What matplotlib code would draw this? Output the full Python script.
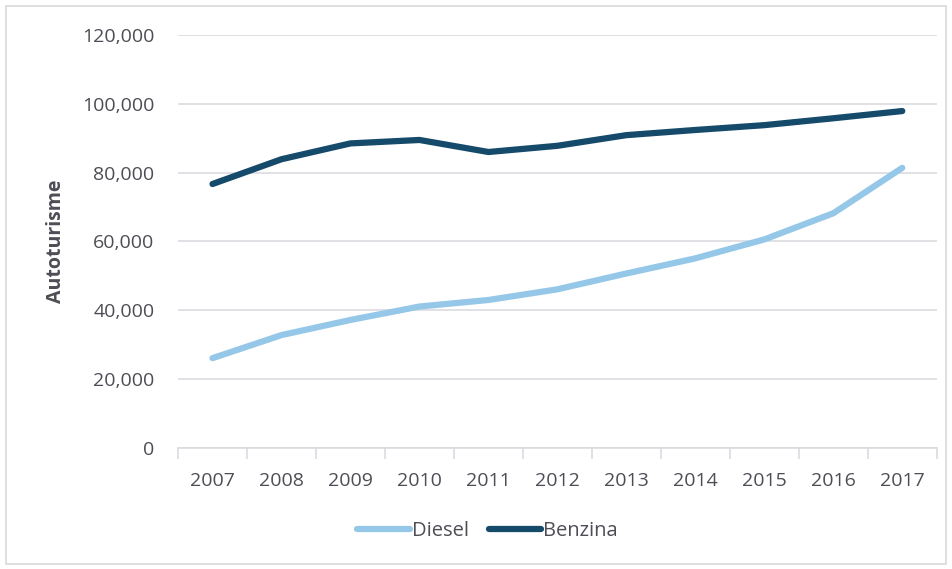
import matplotlib
matplotlib.use("Agg")
import matplotlib.pyplot as plt
from matplotlib.patches import Rectangle
from matplotlib.ticker import FuncFormatter

years = ["2007", "2008", "2009", "2010", "2011", "2012",
         "2013", "2014", "2015", "2016", "2017"]
diesel = [26100, 32800, 37200, 41100, 43000, 46100,
          50700, 55100, 60600, 68200, 81400]
benzina = [76700, 83900, 88500, 89500, 86000, 87800,
           90900, 92400, 93800, 95800, 97900]

diesel_color = "#95C8E8"
benzina_color = "#164A6A"
text_color = "#4D4D55"
grid_color = "#DCDCE0"

plt.rcParams["font.family"] = ["Open Sans", "DejaVu Sans"]

fig = plt.figure(figsize=(9.52, 5.69), dpi=100)
ax = fig.add_axes([0.187, 0.2127, 0.797, 0.7258])

x = list(range(len(years)))
ax.plot(x, diesel, color=diesel_color, lw=4.5, solid_capstyle="round",
        solid_joinstyle="round", label="Diesel")
ax.plot(x, benzina, color=benzina_color, lw=4.5, solid_capstyle="round",
        solid_joinstyle="round", label="Benzina")

ax.set_xlim(-0.5, len(years) - 0.5)
ax.set_ylim(0, 120000)
ax.set_yticks(range(0, 120001, 20000))
ax.yaxis.set_major_formatter(FuncFormatter(lambda v, p: f"{int(v):,}"))
ax.set_xticks(x)
ax.set_xticklabels(years)
ax.set_xticks([i - 0.5 for i in range(len(years) + 1)], minor=True)

ax.grid(axis="y", color=grid_color, lw=1.2)
ax.set_axisbelow(True)
for side in ("top", "right", "left"):
    ax.spines[side].set_visible(False)
ax.spines["bottom"].set_color(grid_color)
ax.spines["bottom"].set_linewidth(1.2)

ax.tick_params(axis="y", length=0, pad=17, labelsize=14, labelcolor=text_color)
ax.tick_params(axis="x", which="major", length=0, pad=17, labelsize=14,
               labelcolor=text_color)
ax.tick_params(axis="x", which="minor", length=8, width=1.2, color=grid_color)

ax.set_ylabel("Autoturisme", fontsize=14, fontweight="bold", color=text_color)
ax.yaxis.set_label_coords(-0.148, 0.5)

leg = fig.legend(loc="center", bbox_to_anchor=(0.512, 0.067), ncol=2,
                 frameon=False, fontsize=14.5, handlelength=2.6,
                 handletextpad=0.1, columnspacing=1.0,
                 labelcolor=text_color)

fig.patches.append(Rectangle((0.006, 0.008), 0.988, 0.982,
                             transform=fig.transFigure, fill=False,
                             edgecolor="#D9D9D9", lw=1.2))

fig.savefig("out.png", dpi=100)
